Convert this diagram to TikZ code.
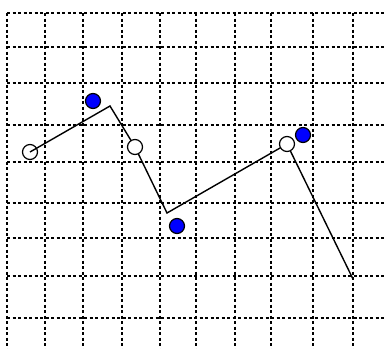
\documentclass[tikz,border=0pt]{standalone}
\begin{document}
\begin{tikzpicture}[x=1pt,y=-1pt,
  gridline/.style={line width=1.2pt,dash pattern=on 3pt off 2.5pt},
  path/.style={line width=1.4pt},
  opendot/.style={circle,draw,line width=1.2pt,fill=white,minimum size=15pt,inner sep=0pt},
  bluedot/.style={circle,draw,line width=1.2pt,fill=blue,minimum size=15pt,inner sep=0pt}]
\useasboundingbox (0,0) rectangle (384,349);
\foreach \x in {7,45,83,122,160,196,235,271,313,353}
  \draw[gridline] (\x,13) -- (\x,349);
\foreach \y in {13,47,83,125,162,203,238,276,318}
  \draw[gridline] (7,\y) -- (384,\y);
\coordinate (c1) at (30,152);
\coordinate (p1) at (110,106);
\coordinate (c2) at (135,147);
\coordinate (p2) at (167,213);
\coordinate (c3) at (287,144);
\coordinate (e) at (353,279);
\draw[path] (c1) -- (p1) -- (c2) -- (p2) -- (c3) -- (e);
\node[opendot,fill=none] (s) at (c1) {};
\node[opendot] (o2) at (c2) {};
\node[opendot] (o3) at (c3) {};
\node[bluedot] (b1) at (93,101) {};
\node[bluedot] (b2) at (303,135) {};
\node[bluedot] (b3) at (177,226) {};
\end{tikzpicture}
\end{document}
